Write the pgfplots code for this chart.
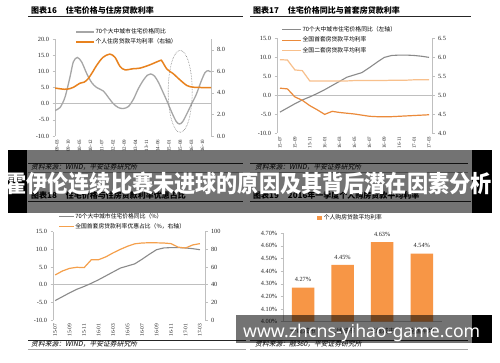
\documentclass[border=0pt]{standalone}
\usepackage{fontspec}
\setmainfont{Liberation Serif}
\newfontfamily\cjk{Noto Sans CJK SC}
\newfontfamily\cjksl[FakeSlant=0.2]{Noto Sans CJK SC}
\newfontfamily\urlfont{Noto Sans}
\usepackage{graphicx}
\usepackage{pgfplots}
\pgfplotsset{compat=1.18}
\definecolor{g1}{HTML}{A6A6A6}
\definecolor{o1}{HTML}{E8821E}
\definecolor{g2}{HTML}{8A8A8A}
\definecolor{o2}{HTML}{EB8A3A}
\definecolor{o2l}{HTML}{F8C08C}
\definecolor{o3}{HTML}{F5A04C}
\definecolor{barc}{HTML}{F79646}
\definecolor{axl}{HTML}{BFBFBF}
\pgfplotsset{
  every axis/.append style={scale only axis, /pgf/number format/assume math mode=true},
  base/.style={
    tick label style={font=\fontsize{6.3}{7}\selectfont, color=black!85},
    axis line style={axl, line width=0.6pt},
    tick style={axl, line width=0.5pt},
    major tick length=2.5pt,
    tick align=outside,
  },
  xrot/.style={xticklabel style={rotate=90, anchor=east, font=\fontsize{#1}{#1}\selectfont, inner sep=1.2pt}, xtick style={draw=none}},
  leg/.style={legend style={draw=none, fill=none, inner sep=0pt, row sep=2.6pt,
      font=\cjk\fontsize{5.8}{6}\selectfont, nodes={inner sep=0.6pt}}, legend cell align=left},
  zeroline/.style={extra y ticks={0}, extra y tick labels={}, extra y tick style={grid=major, major grid style={axl,line width=0.6pt}}},
}
\begin{document}
\begin{tikzpicture}[x=1pt,y=1pt]
\path[use as bounding box] (0,0) rectangle (500,362);
\fill[white] (0,0) rectangle (500,362);
\clip (0,0) rectangle (500,362);

% ================= Panel 1 =================
\node[anchor=base west, font=\cjk\bfseries\fontsize{8}{8}\selectfont, inner sep=0pt] at (31,348.5) {图表16\hspace{9pt}住宅价格与住房贷款利率};
\draw[black!85, line width=0.8pt] (28,345.5) -- (243,345.5);
\begin{axis}[base, xrot=5, at={(55pt,226pt)}, anchor=south west, width=156pt, height=97pt,
  xmin=-1.25, xmax=96.25, ymin=-10, ymax=20,
  axis y line*=left, axis x line*=bottom, x axis line style={draw=none},
  xtick={0,7,...,91},
  xticklabels={09-03,09-10,10-05,10-12,11-07,12-02,12-09,13-04,13-11,14-06,15-01,15-08,16-03,16-10},
  ytick={-10,-5,0,5,10,15,20}, yticklabels={-10.0,-5.0,0.0,5.0,10.0,15.0,20.0}, zeroline]
\addplot[g1, line width=1.3pt, smooth] coordinates {
(-1.25,-2.1) (1.9,-1.2) (5,2) (8.1,8.2) (10.2,12.9) (12.7,14.3) (15.4,12.9) (18.6,9.3) (21.7,6.5) (24.8,5.0) (29,3.9) (32,2.0) (35.2,0) (38.3,-1.2) (41.4,-1.5) (44.6,-0.9) (47.7,1.3) (50.8,4.6) (54,7.3) (56.5,8.8) (58.5,9.2) (61,8.5) (63.5,6.5) (66,3.8) (69,0.5) (72,-3.0) (74.5,-5.5) (76.5,-6.3) (78.5,-5.6) (81,-3.3) (84,-0.2) (87,2.8) (90,6.8) (92.5,9.6) (94.5,10.2) (96,9.8)};
\draw[gray, densely dotted, line width=0.6pt] (axis cs:77,3.8) ellipse [x radius=12pt, y radius=41pt];
\end{axis}
\begin{axis}[base, at={(55pt,226pt)}, anchor=south west, width=156pt, height=97pt,
  xmin=-1.25, xmax=96.25, ymin=0, ymax=9,
  axis y line*=right, axis x line=none,
  ytick={0,2,4,6,8}, yticklabels={0.0,2.0,4.0,6.0,8.0},
  leg, legend style={at={(0.13,1.115)}, anchor=north west},
  legend image code/.code={\draw[#1] (0pt,0pt) -- (18pt,0pt);}]
\addlegendimage{g1, line width=1.3pt}
\addlegendentry{70个大中城市住宅价格同比}
\addplot[o1, line width=1.5pt, smooth] coordinates {
(-1.25,4.45) (3,4.36) (6.25,4.34) (10,4.5) (14.4,4.9) (17,5.0) (19.4,5.3) (21.9,5.85) (25,6.6) (28.75,7.3) (33,7.6) (36.25,7.3) (39.4,6.45) (42.5,6.14) (47.5,6.24) (51.9,6.3) (58,6.6) (64.4,7.0) (65.6,6.95) (68.75,6.2) (72.5,5.8) (76.9,5.2) (81.25,4.68) (85,4.53) (90,4.5) (96.25,4.5)};
\addlegendentry{个人住房贷款平均利率（右轴）}
\end{axis}
\draw[black!85, line width=0.5pt] (28,199) -- (243,199);
\node[anchor=base west, font=\cjksl\fontsize{6.8}{7}\selectfont, inner sep=0pt] at (31,192.5) {资料来源：WIND，平安证券研究所};
\draw[black!35, line width=1pt] (28,189.5) -- (243,189.5);

% ================= Panel 2 =================
\node[anchor=base west, font=\cjk\bfseries\fontsize{8}{8}\selectfont, inner sep=0pt] at (253,348.5) {图表17\hspace{9pt}住宅价格同比与首套房贷款利率};
\draw[black!85, line width=0.8pt] (250,345.5) -- (471,345.5);
\begin{axis}[base, xrot=5, at={(277pt,229pt)}, anchor=south west, width=155pt, height=95pt,
  xmin=-0.4, xmax=20.4, ymin=-10, ymax=15,
  axis y line*=left, axis x line*=bottom, x axis line style={draw=none},
  xtick={0,2,...,20},
  xticklabels={15-07,15-09,15-11,16-01,16-03,16-05,16-07,16-09,16-11,17-01,17-03},
  ytick={-10,-5,0,5,10,15}, yticklabels={-10.0,-5.0,0.0,5.0,10.0,15.0}, zeroline]
\addplot[g2, line width=1.1pt] coordinates {
(0,-4.5) (1,-3.4) (2,-2.3) (3,-1.3) (4,-0.5) (5,0.4) (6,1.4) (7,2.5) (8,3.6) (9,4.7) (10,5.3) (11,5.9) (12,7.2) (13,8.6) (14,9.9) (15,10.4) (16,10.5) (17,10.5) (18,10.4) (19,10.2) (20,9.9)};
\end{axis}
\begin{axis}[base, at={(277pt,229pt)}, anchor=south west, width=155pt, height=95pt,
  xmin=-0.4, xmax=20.4, ymin=4, ymax=6.5,
  axis y line*=right, axis x line=none,
  ytick={4,4.5,5,5.5,6,6.5}, yticklabels={4.0,4.5,5.0,5.5,6.0,6.5},
  leg, legend style={at={(0.03,1.128)}, anchor=north west},
  legend image code/.code={\draw[#1] (0pt,0pt) -- (19pt,0pt);}]
\addlegendimage{g2, line width=1.1pt}
\addlegendentry{70个大中城市住宅价格同比（左轴）}
\addplot[o2, line width=1.2pt] coordinates {
(0,5.18) (1,5.16) (2,4.95) (3,4.86) (4,4.72) (5,4.61) (6,4.49) (7,4.57) (8,4.54) (9,4.52) (10,4.5) (11,4.47) (12,4.44) (13,4.43) (14,4.43) (15,4.43) (16,4.44) (17,4.45) (18,4.46) (19,4.47) (20,4.48)};
\addlegendentry{全国首套房贷款平均利率}
\addplot[o2l, line width=1.2pt] coordinates {
(0,5.93) (1,5.92) (2,5.66) (3,5.64) (4,5.37) (5,5.37) (6,5.37) (7,5.37) (8,5.37) (9,5.37) (10,5.38) (11,5.38) (12,5.38) (13,5.38) (14,5.38) (15,5.39) (16,5.39) (17,5.39) (18,5.4) (19,5.4) (20,5.4)};
\addlegendentry{全国二套房贷款平均利率}
\end{axis}
\draw[black!85, line width=0.5pt] (250,199) -- (468,199);
\node[anchor=base west, font=\cjksl\fontsize{6.8}{7}\selectfont, inner sep=0pt] at (255,192.5) {资料来源：WIND，平安证券研究所};
\draw[black!35, line width=1pt] (250,189.5) -- (468,189.5);

% ================= Panel 3 =================
\node[anchor=base west, font=\cjk\bfseries\fontsize{8}{8}\selectfont, inner sep=0pt] at (31,163.5) {图表18\hspace{9pt}住宅价格与住房贷款利率优惠占比};
\draw[black!85, line width=0.8pt] (28,160.5) -- (243,160.5);
\begin{axis}[base, xrot=5.5, at={(53pt,42pt)}, anchor=south west, width=152pt, height=88.3pt,
  xmin=-0.3, xmax=20.7, ymin=-10, ymax=15,
  axis y line*=left, axis x line*=bottom, x axis line style={draw=none},
  xtick={0,2,...,20},
  xticklabels={15-07,15-09,15-11,16-01,16-03,16-05,16-07,16-09,16-11,17-01,17-03},
  ytick={-10,-5,0,5,10,15}, yticklabels={-10.0,-5.0,0.0,5.0,10.0,15.0}, zeroline]
\addplot[g2, line width=1.1pt] coordinates {
(0,-4.5) (1,-3.4) (2,-2.3) (3,-1.3) (4,-0.5) (5,0.4) (6,1.4) (7,2.5) (8,3.6) (9,4.7) (10,5.3) (11,5.9) (12,7.2) (13,8.6) (14,9.9) (15,10.4) (16,10.5) (17,10.5) (18,10.4) (19,10.2) (20,9.9)};
\end{axis}
\begin{axis}[base, at={(53pt,42pt)}, anchor=south west, width=152pt, height=88.3pt,
  xmin=-0.3, xmax=20.7, ymin=0, ymax=100,
  axis y line*=right, axis x line=none,
  ytick={0,20,40,60,80,100},
  leg, legend style={at={(0.035,1.217)}, anchor=north west},
  legend image code/.code={\draw[#1] (0pt,0pt) -- (15pt,0pt);}]
\addlegendimage{g2, line width=1.1pt}
\addlegendentry{70个大中城市住宅价格同比（\%）}
\addplot[o3, line width=1.2pt] coordinates {
(0,51) (1,55.5) (2,58.5) (3,59.7) (4,59.3) (5,68.3) (6,68.3) (7,71.5) (8,76) (9,80) (10,83.5) (11,86.3) (12,87.2) (13,87.5) (14,87.4) (15,87.2) (16,86.5) (17,82.5) (18,81.5) (19,85) (20,86.5)};
\addlegendentry{全国首套房贷款利率优惠占比（\%，右轴）}
\end{axis}
\draw[black!85, line width=0.5pt] (28,22) -- (246,22);
\node[anchor=base west, font=\cjksl\fontsize{6.8}{7}\selectfont, inner sep=0pt] at (31,15.5) {资料来源：WIND，平安证券研究所};
\draw[black!35, line width=1pt] (28,12.7) -- (246,12.7);

% ================= Panel 4 =================
\node[anchor=base west, font=\cjk\bfseries\fontsize{8}{8}\selectfont, inner sep=0pt] at (253,163.5) {图表19\hspace{9pt}2016年一季度个人购房贷款平均利率};
\draw[black!85, line width=0.8pt] (250,160.5) -- (471,160.5);
\begin{axis}[base, at={(283.2pt,40.3pt)}, anchor=south west, width=158.4pt, height=88.4pt,
  ybar, bar width=22.5pt, bar shift=0pt,
  xmin=-0.5, xmax=3.5, ymin=4, ymax=4.7,
  axis x line*=bottom, axis y line*=left,
  xtick={0,1,2,3}, xticklabels={一线城市,二线城市,三线城市,全国平均},
  xticklabel style={font=\cjk\fontsize{6.3}{7}\selectfont}, xtick style={draw=none},
  ytick={4,4.1,4.2,4.3,4.4,4.5,4.6,4.7},
  yticklabels={4.00\%,4.10\%,4.20\%,4.30\%,4.40\%,4.50\%,4.60\%,4.70\%},
  nodes near coords={\pgfmathprintnumber[fixed,fixed zerofill,precision=2]{\pgfplotspointmeta}\%},
  nodes near coords style={font=\fontsize{6.3}{7}\selectfont, color=black!85, yshift=2pt},
  legend style={draw=none, fill=none, at={(0.215,1.176)}, anchor=west, font=\cjk\fontsize{5.8}{6}\selectfont, inner sep=0pt},
  legend image code/.code={\fill[barc] (0pt,-2.2pt) rectangle (4.4pt,2.2pt);}]
\addplot[fill=barc, draw=none] coordinates {(0,4.27) (1,4.45) (2,4.63) (3,4.54)};
\addlegendentry{个人购房贷款平均利率}
\end{axis}
\draw[black!85, line width=0.5pt] (250,22) -- (468,22);
\node[anchor=base west, font=\cjksl\fontsize{6.8}{7}\selectfont, inner sep=0pt] at (255,15.5) {资料来源：融360，平安证券研究所};
\draw[black!35, line width=1pt] (250,12.7) -- (468,12.7);

% ================= Overlays =================
\fill[black, opacity=0.55] (27,149) rectangle (472,212);
\fill[black] (8,149) rectangle (27,212);
\fill[black] (472,149) rectangle (492,212);
\node[text=white, font=\cjk\bfseries\fontsize{23.5}{24}\selectfont, inner sep=0pt] at (248.5,178.5) {\scalebox{0.9}[1]{霍伊伦连续比赛未进球的原因及其背后潜在因素分析}};

\fill[black, opacity=0.55] (236,19) rectangle (472,47);
\fill[black] (472,19) rectangle (492,47);
\node[anchor=base west, text=white, font=\urlfont\bfseries, inner sep=0pt] at (243,25) {\resizebox{237pt}{!}{www.zhcns-yihao-game.com}};
\end{tikzpicture}
\end{document}
